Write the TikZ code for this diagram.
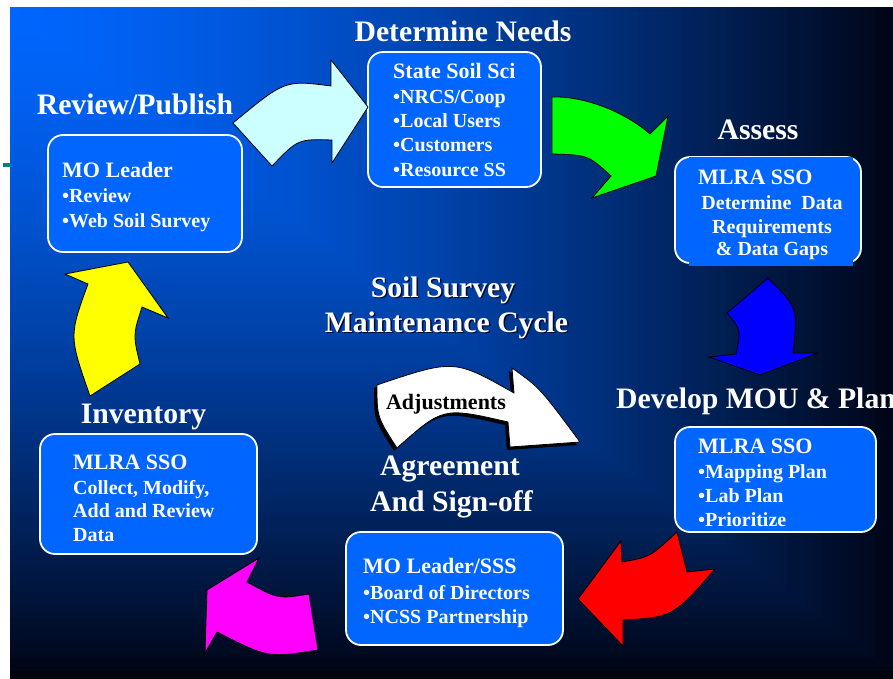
\documentclass[tikz,border=0pt]{standalone}
\usepackage{fontspec}
\setmainfont{Liberation Serif}
\usetikzlibrary{positioning}

\definecolor{bglight}{RGB}{0,102,255}
\definecolor{bgdark}{RGB}{0,6,24}
\definecolor{bgbottom}{RGB}{0,3,14}
\definecolor{boxblue}{RGB}{0,102,255}
\definecolor{tealmark}{RGB}{0,128,128}
\definecolor{palecyan}{RGB}{204,255,255}
\definecolor{shadowblue}{RGB}{0,10,45}
\definecolor{arrgreen}{RGB}{0,255,0}
\definecolor{arrblue}{RGB}{0,0,255}
\definecolor{arrred}{RGB}{255,0,0}
\definecolor{arrmagenta}{RGB}{255,0,255}
\definecolor{arryellow}{RGB}{255,255,0}

\begin{document}
\begin{tikzpicture}[x=1pt, y=-1pt,
    box/.style={draw=white, line width=1.8pt, fill=boxblue, rounded corners=15pt, inner sep=0pt},
    head/.style={text=white, font=\fontsize{29.7}{32}\selectfont\bfseries, inner sep=0pt, anchor=base},
    boxhead/.style={text=white, font=\fontsize{22}{24}\selectfont\bfseries, inner sep=0pt, anchor=base west},
    boxline/.style={text=white, font=\fontsize{20}{24}\selectfont\bfseries, inner sep=0pt, anchor=base west},
    blockarrow/.style={draw=black, line width=0.8pt, line join=miter}]
    \clip (0,0) rectangle (893,679);
    \fill[white] (0,0) rectangle (893,679);

    % Background, dark toward right and bottom
    \foreach \i in {0,...,99}{
        \pgfmathsetmacro\s{1-\i/100}
        \pgfmathsetmacro\p{100*(1-\s^1.4)}
        \fill[bglight!\p!bgdark] (10,7) rectangle ({10+883*\s},{7+664*\s});
    }
    \fill[bgbottom] (10,671) rectangle (893,679);
    \fill[tealmark] (3,163) rectangle (11,167);

    % Boxes
    \fill[boxblue] (385,52) rectangle (533,187);
    \node[box, minimum width=194pt, minimum height=117pt] (leader) at (145,193.5) {};
    \node[box, minimum width=173pt, minimum height=135pt] (state) at (454.5,119.5) {};
    \node[box, minimum width=186pt, minimum height=106pt] (mlraA) at (768,210) {};
    \node[box, minimum width=201pt, minimum height=105pt] (mlraB) at (775.5,479.5) {};
    \node[box, minimum width=217pt, minimum height=113pt] (board) at (454.5,588.5) {};
    \node[box, minimum width=217pt, minimum height=120pt] (inv) at (148.5,494) {};
    \fill[boxblue] (689,157) rectangle (853,266);

    % Cycle arrows
    \draw[blockarrow, fill=palecyan] (233,123) .. controls (285,80) .. (331,86)
        -- (331,60) -- (368,107) -- (332,163) -- (332,140)
        .. controls (298,139) .. (272,166) -- cycle;
    \draw[blockarrow, fill=arrgreen] (552,97) .. controls (585,96) and (625,112) .. (650,134)
        -- (668,116) -- (656,176) -- (592,198) -- (611,176)
        .. controls (588,155) .. (552,154) -- cycle;
    \draw[blockarrow, fill=arrblue] (768,278) -- (727,313) .. controls (741,330) .. (736,354)
        -- (709,357) -- (760,375) -- (818,353) -- (793,353)
        .. controls (798,308) .. cycle;
    \draw[blockarrow, fill=arrred] (677,532) -- (687,572) -- (715,569)
        .. controls (673,617) .. (623,620)
        -- (623,646) -- (578,599) -- (621,541) -- (622,562)
        .. controls (650,557) .. cycle;
    \draw[blockarrow, fill=arrmagenta] (259,558) -- (247,582) .. controls (278,599) .. (309,594)
        -- (318,650) .. controls (268,658) .. (217,632)
        -- (205,653) -- (207,590) -- cycle;
    \draw[blockarrow, fill=arryellow] (65,274) -- (128,262) -- (168,318) -- (142,307)
        .. controls (133,335) .. (140,364) -- (90,396)
        .. controls (69,336) .. (88,284) -- cycle;

    % Adjustments arrow with shadow
    \fill[black, xshift=-3pt, yshift=-3pt] (377,385) .. controls (454,359) .. (514,393)
        -- (512,368) .. controls (540,388) .. (580,442) -- (510,447) -- (508,422)
        .. controls (443,407) .. (397,448) .. controls (377,417) .. cycle;
    \draw[blockarrow, fill=white] (377,385) .. controls (454,359) .. (514,393)
        -- (512,368) .. controls (540,388) .. (580,442) -- (510,447) -- (508,422)
        .. controls (443,407) .. (397,448) .. controls (377,417) .. cycle;
    \node[head, text=black, font=\fontsize{22}{24}\selectfont\bfseries] (adjust) at (446,409) {Adjustments};

    % Stage titles
    \node[head] (needs) at (463,42) {Determine Needs};
    \node[head] (review) at (135,115) {Review/Publish};
    \node[head] (assess) at (758,140) {Assess};
    \node[head, anchor=base west] (develop) at (616,408) {Develop MOU \& Plan};
    \node[head] (inventory) at (143.5,423) {Inventory};
    \node[head] (agree) at (450,475) {Agreement};
    \node[head] (signoff) at (451.5,511) {And Sign-off};
    \node[head, text=shadowblue] (survey-sh) at (444.5,298.5) {Soil Survey};
    \node[head, text=shadowblue] (cycle-sh) at (448,333.5) {Maintenance Cycle};
    \node[head] (survey) at (443,297) {Soil Survey};
    \node[head] (cycle) at (446.5,332) {Maintenance Cycle};

    % Box texts
    \node[boxhead] (leader-hd) at (62,178) {MO Leader};
    \foreach \t/\yy in {•Review/202, •Web Soil Survey/227}
        \node[boxline] (leader-\yy) at (62,\yy) {\t};
    \node[boxhead] (state-hd) at (393,79) {State Soil Sci};
    \foreach \t/\yy in {{•NRCS/Coop}/104, •Local Users/128, •Customers/152, •Resource SS/176}
        \node[boxline] (state-\yy) at (393,\yy) {\t};
    \node[boxhead] (mlraA-hd) at (698,184) {MLRA SSO};
    \foreach \t/\yy in {{Determine~ Data}/209, Requirements/233, {\& Data Gaps}/255}
        \node[boxline, anchor=base] (mlraA-\yy) at (772,\yy) {\t};
    \node[boxhead] (mlraB-hd) at (698,453) {MLRA SSO};
    \foreach \t/\yy in {•Mapping Plan/478, •Lab Plan/502.5, •Prioritize/526}
        \node[boxline] (mlraB-\yy) at (698,\yy) {\t};
    \node[boxhead] (board-hd) at (363,573) {MO Leader/SSS};
    \foreach \t/\yy in {•Board of Directors/599, •NCSS Partnership/623}
        \node[boxline] (board-\yy) at (363,\yy) {\t};
    \node[boxhead] (inv-hd) at (73,469) {MLRA SSO};
    \foreach \t/\yy in {{Collect, Modify,}/494, Add and Review/517.5, Data/541}
        \node[boxline] (inv-\yy) at (73,\yy) {\t};
\end{tikzpicture}
\end{document}
